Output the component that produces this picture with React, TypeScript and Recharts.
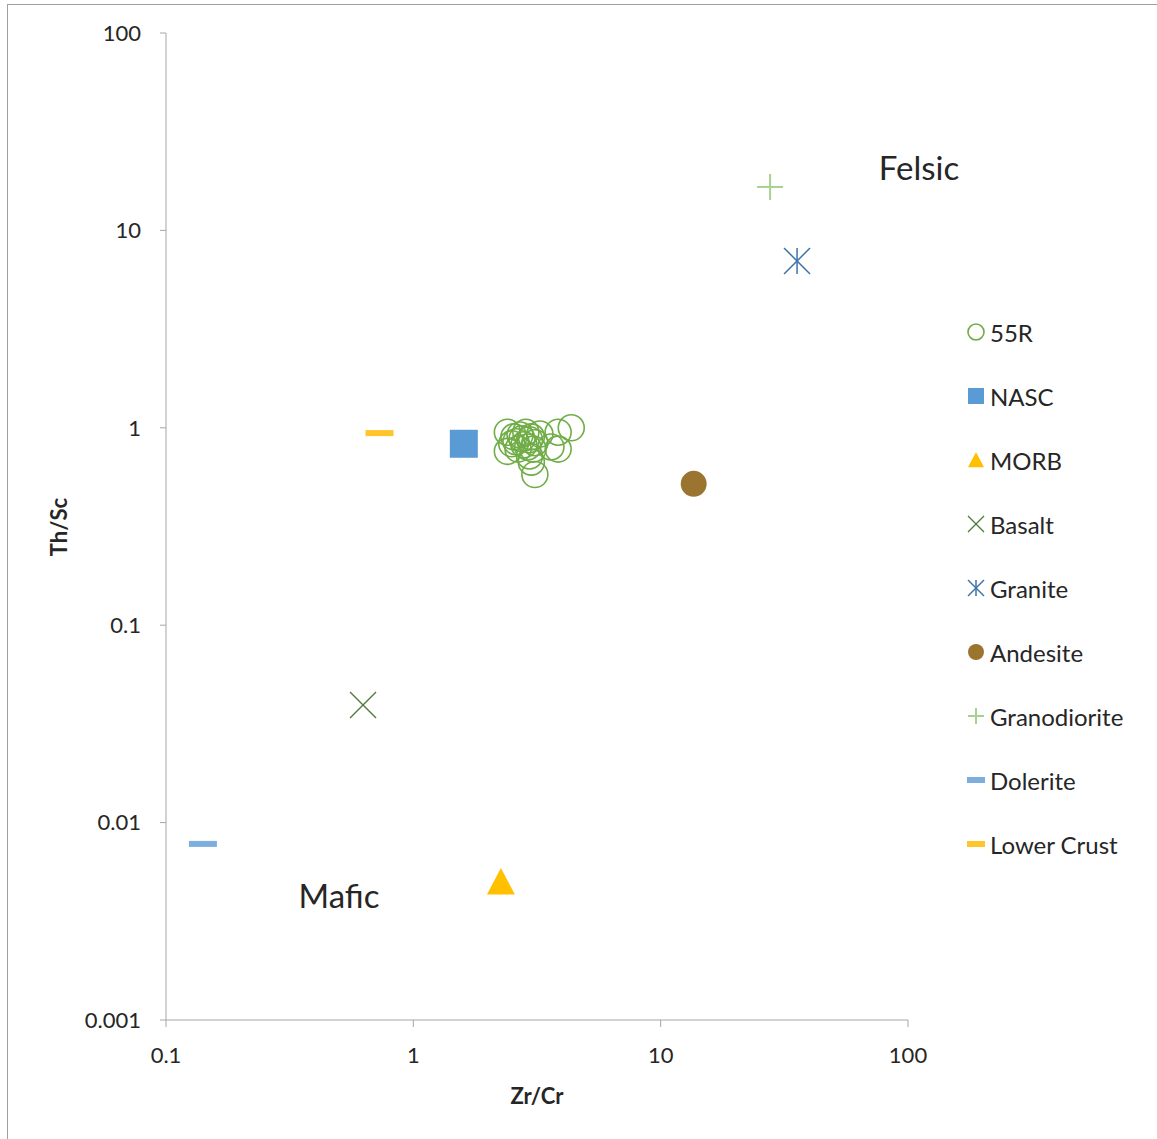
import { ScatterChart, Scatter, XAxis, YAxis, Legend } from 'recharts'

// Zr/Cr vs Th/Sc, both log scaled
const xTicks = [0.1, 1, 10, 100]
const yTicks = [0.001, 0.01, 0.1, 1, 10, 100]

const sample55R = [
  { x: 2.4, y: 0.95 }, { x: 2.55, y: 0.9 }, { x: 2.6, y: 0.85 }, { x: 2.7, y: 0.92 },
  { x: 2.75, y: 0.88 }, { x: 2.8, y: 0.82 }, { x: 2.85, y: 0.95 }, { x: 2.9, y: 0.8 },
  { x: 2.95, y: 0.87 }, { x: 3.0, y: 0.9 }, { x: 3.05, y: 0.78 }, { x: 3.1, y: 0.84 },
  { x: 3.25, y: 0.93 }, { x: 2.65, y: 0.78 }, { x: 2.4, y: 0.76 }, { x: 3.0, y: 0.67 },
  { x: 3.1, y: 0.58 }, { x: 3.85, y: 0.95 }, { x: 4.35, y: 1.0 }, { x: 3.85, y: 0.78 },
  { x: 3.6, y: 0.8 }, { x: 2.5, y: 0.83 }, { x: 2.95, y: 0.72 },
]
const nasc = [{ x: 1.6, y: 0.83 }]
const morb = [{ x: 2.26, y: 0.005 }]
const basalt = [{ x: 0.626, y: 0.0394 }]
const granite = [{ x: 35.6, y: 7.0 }]
const andesite = [{ x: 13.6, y: 0.52 }]
const granodiorite = [{ x: 27.7, y: 16.6 }]
const dolerite = [{ x: 0.141, y: 0.0078 }]
const lowerCrust = [{ x: 0.73, y: 0.94 }]

const FONT = 'Lato, "Open Sans", sans-serif'
const AXIS = '#a6a6a6'
const LEGEND_W = 190

type MarkerKind = 'ring' | 'square' | 'triangle' | 'x' | 'star' | 'dot' | 'plus' | 'dash'

function Marker({ kind, cx, cy, r, color }: { kind: MarkerKind; cx: number; cy: number; r: number; color: string }) {
  switch (kind) {
    case 'ring':
      return <circle cx={cx} cy={cy} r={r} fill="none" stroke={color} strokeWidth={1.6} />
    case 'square':
      return <rect x={cx - r} y={cy - r} width={2 * r} height={2 * r} fill={color} />
    case 'triangle':
      return <polygon points={`${cx},${cy - r} ${cx + r},${cy + r * 0.9} ${cx - r},${cy + r * 0.9}`} fill={color} />
    case 'x':
      return (
        <g stroke={color} strokeWidth={1.3}>
          <line x1={cx - r} y1={cy - r} x2={cx + r} y2={cy + r} />
          <line x1={cx - r} y1={cy + r} x2={cx + r} y2={cy - r} />
        </g>
      )
    case 'star':
      return (
        <g stroke={color} strokeWidth={1.5}>
          <line x1={cx - r} y1={cy - r} x2={cx + r} y2={cy + r} />
          <line x1={cx - r} y1={cy + r} x2={cx + r} y2={cy - r} />
          <line x1={cx} y1={cy - r} x2={cx} y2={cy + r} />
        </g>
      )
    case 'dot':
      return <circle cx={cx} cy={cy} r={r} fill={color} />
    case 'plus':
      return (
        <g stroke={color} strokeWidth={2}>
          <line x1={cx - r} y1={cy} x2={cx + r} y2={cy} />
          <line x1={cx} y1={cy - r} x2={cx} y2={cy + r} />
        </g>
      )
    case 'dash':
      return <rect x={cx - r} y={cy - 3} width={2 * r} height={6} fill={color} />
  }
}

const series = [
  { name: '55R', data: sample55R, kind: 'ring' as MarkerKind, color: '#70ad47', size: 13 },
  { name: 'NASC', data: nasc, kind: 'square' as MarkerKind, color: '#5b9bd5', size: 14 },
  { name: 'MORB', data: morb, kind: 'triangle' as MarkerKind, color: '#ffc000', size: 14 },
  { name: 'Basalt', data: basalt, kind: 'x' as MarkerKind, color: '#4f7a3a', size: 13 },
  { name: 'Granite', data: granite, kind: 'star' as MarkerKind, color: '#3d72a8', size: 13 },
  { name: 'Andesite', data: andesite, kind: 'dot' as MarkerKind, color: '#9b7530', size: 13 },
  { name: 'Granodiorite', data: granodiorite, kind: 'plus' as MarkerKind, color: '#a9d18e', size: 13 },
  { name: 'Dolerite', data: dolerite, kind: 'dash' as MarkerKind, color: '#7cafdd', size: 14 },
  { name: 'Lower Crust', data: lowerCrust, kind: 'dash' as MarkerKind, color: '#ffc52a', size: 14 },
]

function LegendList() {
  return (
    <div style={{ fontFamily: FONT, fontSize: 24, color: '#262626', width: LEGEND_W }}>
      {series.map((s) => (
        <div key={s.name} style={{ display: 'flex', alignItems: 'center', height: 64 }}>
          <svg width={22} height={22} style={{ marginRight: 2, flex: 'none' }}>
            <Marker kind={s.kind} cx={10} cy={11} r={s.kind === 'dash' ? 9 : 8} color={s.color} />
          </svg>
          <span>{s.name}</span>
        </div>
      ))}
    </div>
  )
}

const fmt = (v: number) => String(v)

export default function App() {
  return (
    <div style={{ position: 'absolute', left: 0, top: 0, width: 1157, height: 1139, background: '#fff', overflow: 'hidden' }}>
      <div style={{ position: 'absolute', left: 7, top: 4, width: 1160, height: 1160, border: '1.5px solid #a0a0a0' }} />
      {/* the legend sits on the right and its width is taken off the plot by recharts */}
      <ScatterChart width={1157} height={1139} margin={{ top: 33, right: 249 - LEGEND_W, bottom: 79, left: 106 }}>
        <XAxis
          type="number"
          dataKey="x"
          scale="log"
          domain={[0.1, 100]}
          ticks={xTicks}
          tickFormatter={fmt}
          allowDataOverflow
          height={40}
          stroke={AXIS}
          tickSize={7}
          tickMargin={20}
          tick={{ fill: '#262626', fontSize: 22, fontFamily: FONT }}
        />
        <YAxis
          type="number"
          dataKey="y"
          scale="log"
          domain={[0.001, 100]}
          ticks={yTicks}
          tickFormatter={fmt}
          allowDataOverflow
          width={60}
          stroke={AXIS}
          tickSize={6}
          tickMargin={19}
          tick={{ fill: '#262626', fontSize: 22, fontFamily: FONT }}
        />
        <Legend
          layout="vertical"
          verticalAlign="top"
          align="right"
          wrapperStyle={{ left: 966, top: 300, width: LEGEND_W }}
          content={() => <LegendList />}
        />
        {series.map((s) => (
          <Scatter
            key={s.name}
            name={s.name}
            data={s.data}
            isAnimationActive={false}
            shape={(p: any) => <Marker kind={s.kind} cx={p.cx} cy={p.cy} r={s.size} color={s.color} />}
          />
        ))}
      </ScatterChart>
      {/* axis titles and region annotations */}
      <div style={{ position: 'absolute', left: 537, top: 1095, transform: 'translate(-50%, -50%)', fontFamily: FONT, fontWeight: 700, fontSize: 22, color: '#262626' }}>Zr/Cr</div>
      <div style={{ position: 'absolute', left: 58, top: 527, transform: 'translate(-50%, -50%) rotate(-90deg)', fontFamily: FONT, fontWeight: 700, fontSize: 22, color: '#262626' }}>Th/Sc</div>
      <div style={{ position: 'absolute', left: 919, top: 167, transform: 'translate(-50%, -50%)', fontFamily: FONT, fontSize: 33, color: '#262626' }}>Felsic</div>
      <div style={{ position: 'absolute', left: 339, top: 895, transform: 'translate(-50%, -50%)', fontFamily: FONT, fontSize: 33, color: '#262626' }}>Mafic</div>
    </div>
  )
}
